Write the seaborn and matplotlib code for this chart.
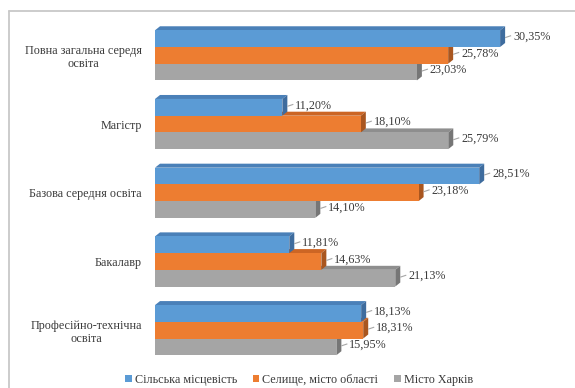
import matplotlib
matplotlib.use("Agg")
import matplotlib.pyplot as plt
import pandas as pd
import seaborn as sns
from matplotlib.patches import Polygon, Patch
from matplotlib.lines import Line2D

categories = ["Повна загальна середя\nосвіта", "Магістр", "Базова середня освіта",
              "Бакалавр", "Професійно-технічна\nосвіта"]
series = ["Сільська місцевість", "Селище, місто області", "Місто Харків"]
rural = [30.35, 11.20, 28.51, 11.81, 18.13]
town = [25.78, 18.10, 23.18, 14.63, 18.31]
kharkiv = [23.03, 25.79, 14.10, 21.13, 15.95]

front = ["#5B9BD5", "#ED7D31", "#A5A5A5"]
topc = ["#4A80B8", "#CC6524", "#8E8E8E"]
sidec = ["#3E6C9E", "#A9561F", "#767676"]

df = pd.DataFrame({
    "cat": categories * 3,
    "ser": sum([[s] * len(categories) for s in series], []),
    "val": rural + town + kharkiv,
})

sns.set_theme(style="white")
SERIF = ["Liberation Serif", "DejaVu Serif"]
plt.rcParams["font.family"] = SERIF
FS = 8.7

W, H = 575, 388
fig = plt.figure(figsize=(W / 100, H / 100), dpi=100)
ax_l, ax_b, ax_w, ax_h = 155 / W, 1 - 364.5 / H, 398 / W, 343.5 / H
ax = fig.add_axes([ax_l, ax_b, ax_w, ax_h])

sns.barplot(data=df, y="cat", x="val", hue="ser", orient="h", order=categories,
            hue_order=series, palette=front, width=0.73, ax=ax, legend=False,
            linewidth=0, saturation=1)

XMAX = 35.0
ax.set_xlim(0, XMAX)
ax.set_ylim(4.5, -0.5)
px_x = ax_w * W / XMAX
px_y = ax_h * H / 5.0
dxp, dyp = 5.0, 4.0
ddx, ddy = dxp / px_x, dyp / px_y

for i, cont in enumerate(ax.containers):
    zf = 10 - 2 * i
    for p, v in zip(cont.patches, [rural, town, kharkiv][i]):
        p.set_zorder(zf)
        x0 = p.get_x()
        x1 = x0 + p.get_width()
        yt = p.get_y()
        yb = yt + p.get_height()
        top = Polygon([(x0, yt), (x1, yt), (x1 + ddx, yt - ddy), (x0 + ddx, yt - ddy)],
                      closed=True, facecolor=topc[i], edgecolor="none", zorder=zf - 0.5)
        side = Polygon([(x1, yt), (x1, yb), (x1 + ddx, yb - ddy), (x1 + ddx, yt - ddy)],
                       closed=True, facecolor=sidec[i], edgecolor="none", zorder=zf - 0.5)
        ax.add_patch(top)
        ax.add_patch(side)
        yc = (yt + yb) / 2 - ddy / 2
        xs = x1 + ddx
        ax.plot([xs, xs + 6 / px_x], [yc + 1 / px_y, yc - 1 / px_y], color="#A6A6A6",
                lw=0.8, zorder=12, solid_capstyle="butt")
        ax.text(xs + 8 / px_x, yc, f"{v:.2f}".replace(".", ",") + "%",
                va="center", ha="left", fontsize=FS, color="#3A3A3A", zorder=13,
                family=SERIF)

ax.set_xlabel("")
ax.set_ylabel("")
ax.set_xticks([])
for s in ax.spines.values():
    s.set_visible(False)
ax.tick_params(axis="y", left=False, length=0, pad=9.5, labelsize=FS, labelcolor="#3A3A3A")
for t in ax.get_yticklabels():
    t.set_multialignment("center")
    t.set_family(SERIF)
    t.set_linespacing(1.1)

handles = [Patch(facecolor=c, edgecolor="none") for c in front]
leg = fig.legend(handles, series, loc="center", bbox_to_anchor=(299 / W, 1 - 380 / H),
                 ncol=3, frameon=False, prop={"family": SERIF, "size": FS},
                 handlelength=0.55, handleheight=0.55, handletextpad=0.25,
                 columnspacing=1.3, labelcolor="#3A3A3A")

bc = "#C8C8C8"
fig.add_artist(Line2D([9 / W, 1], [1 - 11 / H, 1 - 11 / H], transform=fig.transFigure,
                      color=bc, lw=1.3))
fig.add_artist(Line2D([9 / W, 9 / W], [0, 1 - 11 / H], transform=fig.transFigure,
                      color=bc, lw=1.3))

fig.savefig("out.png", dpi=100)
